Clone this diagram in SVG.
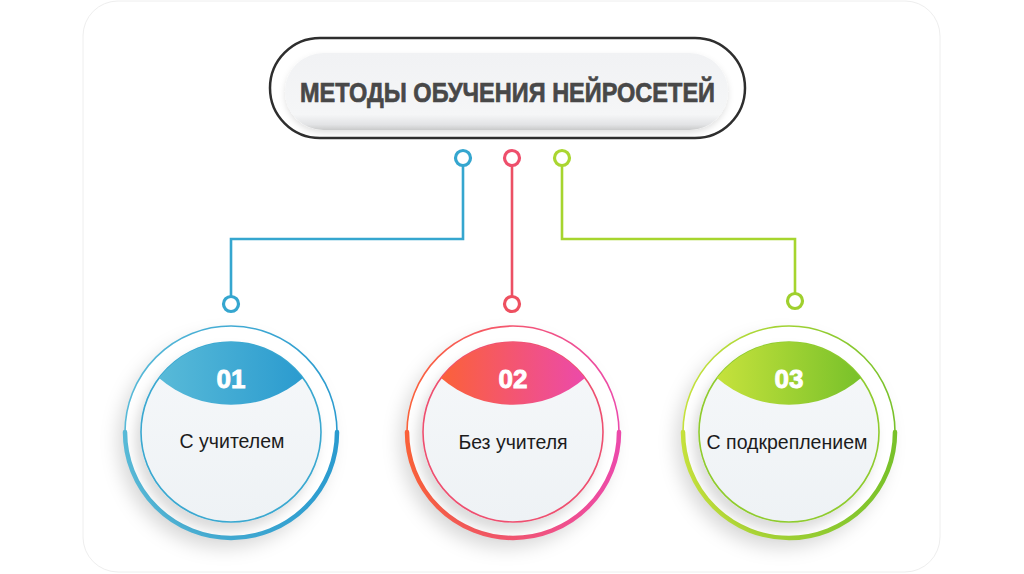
<svg xmlns="http://www.w3.org/2000/svg" width="1024" height="574" viewBox="0 0 1024 574">
<style>
.title{font-family:"Liberation Sans",Arial,sans-serif;font-weight:bold;font-size:28px;fill:#484848;stroke:#484848;stroke-width:0.7}
.num{font-family:"Liberation Sans",Arial,sans-serif;font-weight:bold;font-size:26px;fill:#ffffff;stroke:#ffffff;stroke-width:0.9;text-anchor:middle}
.lbl{font-family:"Liberation Sans",Arial,sans-serif;font-size:19.5px;fill:#1c1c1c;text-anchor:middle}
.thin{fill:none;stroke-width:1.6}
.thick{fill:none;stroke-width:4.5;stroke-linecap:round}
.inner{fill:url(#innerFill);stroke-width:1.6}
.conn{fill:none;stroke-width:2.6}
.dot{fill:#ffffff;stroke-width:3.2}
</style>
<defs>
<linearGradient id="gBlue" x1="0" y1="0" x2="1" y2="0"><stop offset="0" stop-color="#58bad8"/><stop offset="1" stop-color="#2b9bcf"/></linearGradient>
<linearGradient id="gRed" x1="0" y1="0" x2="1" y2="0"><stop offset="0" stop-color="#fb6139"/><stop offset="1" stop-color="#ec4aaa"/></linearGradient>
<linearGradient id="gGreen" x1="0" y1="0" x2="1" y2="0"><stop offset="0" stop-color="#c6e23c"/><stop offset="1" stop-color="#78c12a"/></linearGradient>
<linearGradient id="innerFill" x1="0" y1="0" x2="0" y2="1"><stop offset="0" stop-color="#f6f8fa"/><stop offset="1" stop-color="#eef2f5"/></linearGradient>
<linearGradient id="pillFill" x1="0" y1="0" x2="0" y2="1"><stop offset="0" stop-color="#f1f2f4"/><stop offset="0.8" stop-color="#f5f6f7"/><stop offset="0.93" stop-color="#e2e3e5"/><stop offset="1" stop-color="#c9caca"/></linearGradient>
<filter id="shadow" x="-30%" y="-30%" width="160%" height="160%"><feDropShadow dx="-7" dy="10" stdDeviation="9" flood-color="#000" flood-opacity="0.15"/></filter>
<filter id="shadowIn" x="-30%" y="-30%" width="160%" height="160%"><feDropShadow dx="-5" dy="8" stdDeviation="6" flood-color="#000" flood-opacity="0.14"/></filter>
<filter id="pillShadow" x="-10%" y="-30%" width="120%" height="160%"><feDropShadow dx="0" dy="3" stdDeviation="3" flood-color="#000" flood-opacity="0.12"/></filter>
</defs>
<rect x="0" y="0" width="1024" height="574" fill="#ffffff"/>
<rect x="83" y="1" width="857" height="571" rx="35" fill="#ffffff" stroke="#eeeeee" stroke-width="1"/>

<g id="header">
<rect x="270" y="38" width="475" height="100" rx="50" fill="#ffffff" stroke="#2e2e2e" stroke-width="2.5"/>
<rect x="285" y="53" width="443" height="77" rx="38.5" fill="url(#pillFill)" filter="url(#pillShadow)"/>
<text class="title" x="300" y="102" textLength="415" lengthAdjust="spacingAndGlyphs">МЕТОДЫ ОБУЧЕНИЯ НЕЙРОСЕТЕЙ</text>
</g>

<g id="connectors">
<path class="conn" stroke="#35a6cf" d="M463,166 V239 H231 V296"/>
<circle class="dot" stroke="#35a6cf" cx="463" cy="158" r="7.5"/>
<circle class="dot" stroke="#35a6cf" cx="231" cy="304" r="7.5"/>
<path class="conn" stroke="#ec5064" d="M512,166 V296"/>
<circle class="dot" stroke="#ee4f6c" cx="512" cy="158" r="7.5"/>
<circle class="dot" stroke="#ee5060" cx="512" cy="304" r="7.5"/>
<path class="conn" stroke="#a6d52e" d="M562,166 V239 H795 V293"/>
<circle class="dot" stroke="#aad631" cx="562" cy="158" r="7.5"/>
<circle class="dot" stroke="#9fd02e" cx="795" cy="301" r="7.5"/>
</g>

<g id="node1">
<circle cx="231" cy="432" r="106" fill="#ffffff" filter="url(#shadow)"/>
<path class="thin" stroke="url(#gBlue)" d="M125,432 A106,106 0 0 1 337,432"/>
<path class="thick" stroke="url(#gBlue)" d="M125,432 A106,106 0 0 0 337,432"/>
<circle class="inner" stroke="#3aa8d0" cx="231" cy="432" r="90" filter="url(#shadowIn)"/>
<path fill="url(#gBlue)" d="M159,378 A90,90 0 0 1 303,378 A110,110 0 0 1 159,378 Z"/>
<text class="num" x="231" y="388">01</text>
<text class="lbl" x="232" y="448">С учителем</text>
</g>

<g id="node2">
<circle cx="513" cy="432" r="106" fill="#ffffff" filter="url(#shadow)"/>
<path class="thin" stroke="url(#gRed)" d="M407,432 A106,106 0 0 1 619,432"/>
<path class="thick" stroke="url(#gRed)" d="M407,432 A106,106 0 0 0 619,432"/>
<circle class="inner" stroke="#ee5070" cx="513" cy="432" r="90" filter="url(#shadowIn)"/>
<path fill="url(#gRed)" d="M441,378 A90,90 0 0 1 585,378 A110,110 0 0 1 441,378 Z"/>
<text class="num" x="513" y="388">02</text>
<text class="lbl" x="513" y="449">Без учителя</text>
</g>

<g id="node3">
<circle cx="789" cy="432" r="106" fill="#ffffff" filter="url(#shadow)"/>
<path class="thin" stroke="url(#gGreen)" d="M683,432 A106,106 0 0 1 895,432"/>
<path class="thick" stroke="url(#gGreen)" d="M683,432 A106,106 0 0 0 895,432"/>
<circle class="inner" stroke="#8fcb2e" cx="789" cy="432" r="90" filter="url(#shadowIn)"/>
<path fill="url(#gGreen)" d="M717,378 A90,90 0 0 1 861,378 A110,110 0 0 1 717,378 Z"/>
<text class="num" x="789" y="388">03</text>
<text class="lbl" x="787" y="449">С подкреплением</text>
</g>
</svg>
